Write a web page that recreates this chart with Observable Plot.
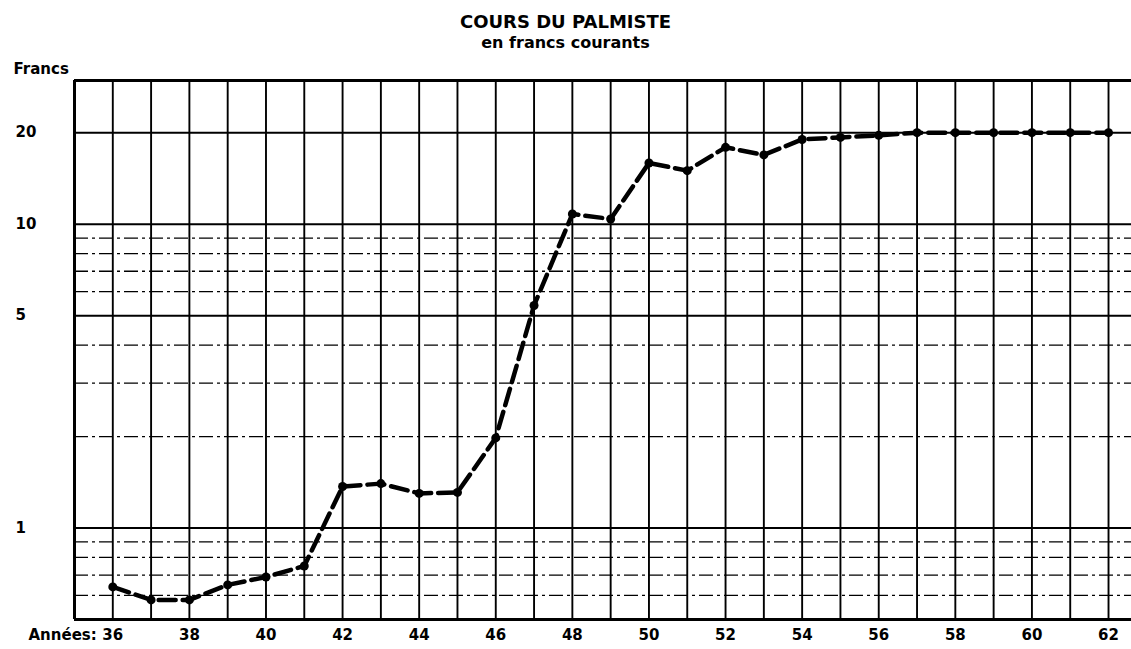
<!DOCTYPE html>
<html>
<head>
<meta charset="utf-8">
<script src="https://cdn.jsdelivr.net/npm/d3@7"></script>
<script src="https://cdn.jsdelivr.net/npm/@observablehq/plot@0.6"></script>
<style>
  body { margin: 0; background: #fff; }
  #head { position: relative; width: 1131px; height: 56px; font-family: "DejaVu Sans", sans-serif; color: #000; }
  #head div { position: absolute; left: 0; width: 1131px; text-align: center; font-weight: bold; line-height: 1; white-space: nowrap; }
  #t1 { top: 13px; font-size: 18px; }
  #t2 { top: 35px; font-size: 16px; }
</style>
</head>
<body>
<div id="head">
  <div id="t1">COURS DU PALMISTE</div>
  <div id="t2">en francs courants</div>
</div>
<div id="chart"></div>
<script>
// Years (19xx) and palm-kernel price in current francs
const years = [36, 37, 38, 39, 40, 41, 42, 43, 44, 45, 46, 47, 48, 49, 50, 51, 52, 53, 54, 55, 56, 57, 58, 59, 60, 61, 62];
const prices = [0.64, 0.58, 0.58, 0.65, 0.69, 0.75, 1.37, 1.40, 1.30, 1.31, 1.98, 5.4, 10.8, 10.4, 15.9, 15.0, 17.9, 16.9, 19.0, 19.3, 19.6, 20, 20, 20, 20, 20, 20];

const xTickLabels = [36, 38, 40, 42, 44, 46, 48, 50, 52, 54, 56, 58, 60, 62];
const yTickLabels = [1, 5, 10, 20];
const yMajorGrid = [1, 5, 10, 20];
const yMinorGrid = [0.6, 0.7, 0.8, 0.9, 2, 3, 4, 6, 7, 8, 9];
const xDomain = [35, 62.6];
const yDomain = [0.5, 29.7];

const data = years.map((y, i) => ({year: y, price: prices[i]}));

const plot = Plot.plot({
  width: 1131,
  height: 593,
  marginLeft: 74,
  marginRight: 0,
  marginTop: 24,
  marginBottom: 30,
  x: {domain: xDomain, axis: null, label: null},
  y: {type: "log", domain: yDomain, axis: null, label: null},
  style: {fontFamily: "DejaVu Sans, sans-serif", fontWeight: "bold", fontSize: "14px", color: "#000", background: "#fff"},
  marks: [
    Plot.ruleY(yMinorGrid, {stroke: "#000", strokeWidth: 1.3, strokeDasharray: "14,4,3,4"}),
    Plot.ruleY(yMajorGrid, {stroke: "#000", strokeWidth: 2}),
    Plot.ruleX(years, {stroke: "#000", strokeWidth: 1.9}),
    Plot.ruleX([xDomain[0]], {stroke: "#000", strokeWidth: 3}),
    Plot.ruleY(yDomain, {stroke: "#000", strokeWidth: 3}),
    Plot.line(data, {x: "year", y: "price", stroke: "#000", strokeWidth: 4.5, strokeDasharray: "17,7"}),
    Plot.dot(data, {x: "year", y: "price", r: 4.5, fill: "#000", stroke: "none"}),
    Plot.axisY(yTickLabels, {label: null, tickSize: 0, tickPadding: 0, textAnchor: "start", dx: -59, fontSize: 15}),
    Plot.axisX(xTickLabels, {label: null, tickSize: 0, tickPadding: 10, fontSize: 15}),
    Plot.text(["Francs"], {frameAnchor: "top-left", textAnchor: "start", dx: -61, dy: -17, fontSize: 15}),
    Plot.text(["Années:"], {frameAnchor: "bottom-left", textAnchor: "start", dx: -46, dy: 20, fontSize: 15})
  ]
});
document.getElementById("chart").appendChild(plot);
</script>
</body>
</html>
